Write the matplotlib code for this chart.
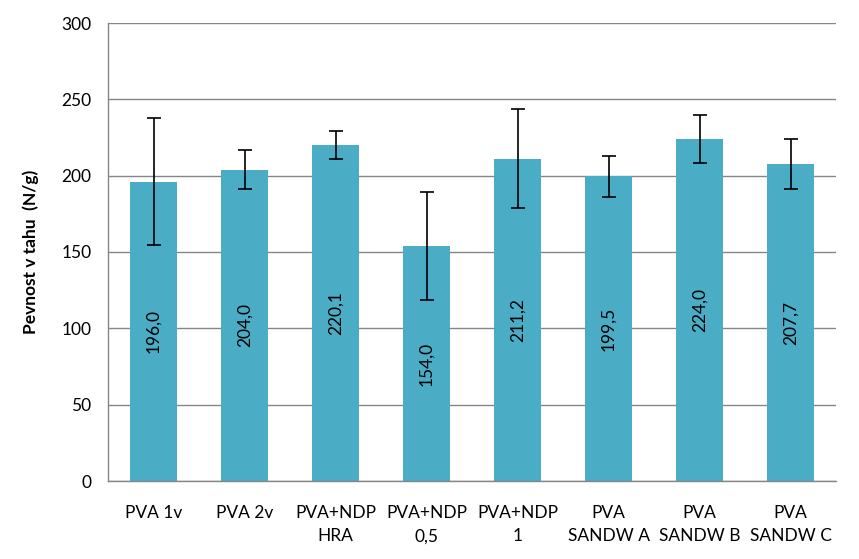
import matplotlib
matplotlib.use("Agg")
import matplotlib.pyplot as plt
import numpy as np

categories = ["PVA 1v", "PVA 2v", "PVA+NDP\nHRA", "PVA+NDP\n0,5", "PVA+NDP\n1",
              "PVA\nSANDW A", "PVA\nSANDW B", "PVA\nSANDW C"]
values = [196.0, 204.0, 220.1, 154.0, 211.2, 199.5, 224.0, 207.7]
errors = [41.6, 12.7, 9.2, 35.4, 32.5, 13.7, 15.5, 16.4]
value_labels = ["196,0", "204,0", "220,1", "154,0", "211,2", "199,5", "224,0", "207,7"]
yticks = [0, 50, 100, 150, 200, 250, 300]

plt.rcParams['font.family'] = ['Lato', 'DejaVu Sans']

fig = plt.figure(figsize=(8.59, 5.59), dpi=100)
ax = fig.add_axes([108/859, 78/559, 728/859, 458/559])

x = np.arange(len(categories))
ax.bar(x, values, width=0.51, color="#4BACC6", zorder=2)
ax.errorbar(x, values, yerr=errors, fmt="none", ecolor="black", elinewidth=1.2,
            capsize=5, capthick=1.2, zorder=3)
for xi, v, lab in zip(x, values, value_labels):
    ax.text(xi, v/2, lab, rotation=90, ha="center", va="center", fontsize=12.5, color="black", zorder=4)

ax.set_xlim(-0.5, len(categories) - 0.5)
ax.set_ylim(0, 300)
ax.set_yticks(yticks)
ax.set_yticklabels([str(t) for t in yticks], fontsize=12.5)
ax.set_xticks(x)
ax.set_xticklabels(categories, fontsize=12.5, linespacing=1.6)
ax.tick_params(axis="x", length=0, pad=17)
ax.tick_params(axis="y", length=0, pad=12)
ax.yaxis.grid(True, color="#868686", linewidth=1.0, zorder=0)
ax.set_axisbelow(True)
for s in ["top", "right"]:
    ax.spines[s].set_visible(False)
for s in ["left", "bottom"]:
    ax.spines[s].set_color("#868686")
    ax.spines[s].set_linewidth(1.0)
ax.set_ylabel("Pevnost v tahu  (N/g)", fontsize=12.5, fontweight="bold", labelpad=16)

fig.savefig("out.png", dpi=100)
